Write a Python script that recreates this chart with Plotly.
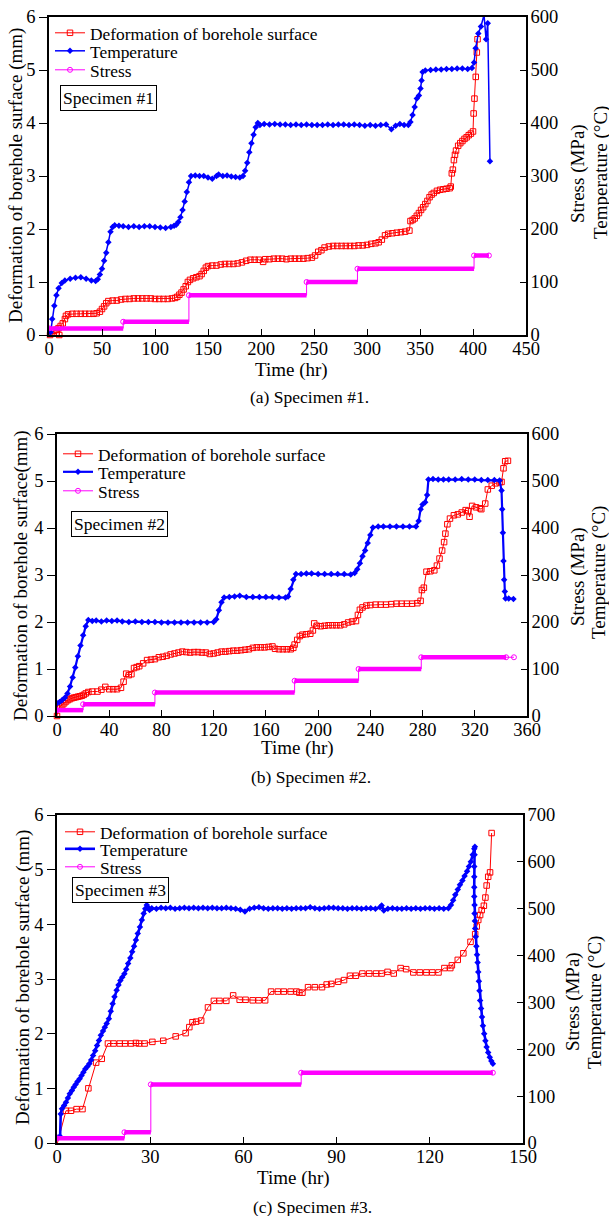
import plotly.graph_objects as go

W, H = 609, 1216
FONT = "Liberation Serif, Times New Roman, Times, serif"
RED, BLUE, MAG = "#ff0000", "#0000ff", "#ff00ff"

# ---------------- Panel (a) Specimen #1 ----------------
p1_deformation = [
    (1, 0.0), (3, 0.05), (5, 0.08), (7, 0.1), (9, 0.13), (9.7, 0.0), (11, 0.17), (13, 0.22), (15, 0.3),
    (16, 0.36), (18, 0.39), (22, 0.4), (26, 0.4), (30, 0.4), (34, 0.4), (38, 0.4), (42, 0.4), (45, 0.41),
    (48, 0.44), (50, 0.49), (52, 0.54), (54, 0.6), (56, 0.64), (60, 0.65), (64, 0.65), (68, 0.67),
    (72, 0.68), (76, 0.68), (80, 0.69), (84, 0.69), (88, 0.69), (92, 0.69), (96, 0.69), (100, 0.68),
    (104, 0.68), (108, 0.68), (112, 0.68), (116, 0.69), (119, 0.7), (121, 0.72), (123, 0.76), (125, 0.8),
    (127, 0.86), (129, 0.92), (131, 1.0), (133, 1.04), (136, 1.07), (139, 1.09), (142, 1.11), (144, 1.15),
    (146, 1.21), (148, 1.27), (150, 1.3), (154, 1.31), (158, 1.31), (162, 1.33), (166, 1.34), (170, 1.34),
    (174, 1.34), (178, 1.35), (182, 1.37), (186, 1.4), (190, 1.42), (194, 1.42), (198, 1.42), (202, 1.38),
    (204, 1.43), (208, 1.43), (212, 1.44), (216, 1.44), (220, 1.44), (224, 1.43), (228, 1.44), (232, 1.44),
    (236, 1.44), (240, 1.44), (244, 1.45), (248, 1.46), (251, 1.5), (254, 1.57), (257, 1.6), (260, 1.65),
    (264, 1.67), (268, 1.68), (272, 1.68), (276, 1.68), (280, 1.68), (284, 1.68), (288, 1.68), (292, 1.69),
    (296, 1.69), (300, 1.7), (304, 1.72), (308, 1.73), (311, 1.75), (314, 1.8), (317, 1.88), (320, 1.91),
    (324, 1.92), (328, 1.93), (332, 1.94), (336, 1.95), (340, 1.97), (341, 2.15), (343, 2.17), (345, 2.2),
    (347, 2.25), (349, 2.3), (351, 2.36), (353, 2.41), (355, 2.47), (357, 2.53), (359, 2.6), (361, 2.65),
    (363, 2.68), (366, 2.72), (369, 2.74), (372, 2.75), (375, 2.76), (378, 2.77), (379, 2.8), (380, 3.05),
    (381, 3.12), (382, 3.3), (383, 3.4), (384, 3.48), (386, 3.57), (388, 3.62), (390, 3.66), (392, 3.7),
    (394, 3.73), (396, 3.77), (398, 3.8), (400, 3.84), (400.6, 4.18), (401.4, 4.46), (402.6, 4.87),
    (403.6, 5.33), (404.3, 5.58),
]
p1_temperature = [
    (1.5, 5), (3, 30), (5, 55), (7, 75), (9, 88), (12, 98), (15, 103), (20, 106), (25, 108), (30, 109),
    (35, 106), (40, 103), (44, 102), (46, 105), (48, 114), (50, 125), (52, 140), (54, 155), (56, 175),
    (58, 195), (60, 204), (62, 207), (66, 206), (70, 205), (75, 204), (80, 205), (85, 204), (90, 205),
    (95, 205), (100, 204), (105, 203), (110, 202), (115, 204), (118, 206), (120, 208), (122, 213),
    (124, 222), (126, 236), (128, 252), (130, 270), (132, 288), (134, 300), (138, 301), (142, 300),
    (146, 300), (150, 297), (154, 295), (158, 300), (160, 303), (164, 300), (168, 301), (172, 299),
    (176, 298), (180, 297), (183, 300), (185, 310), (187, 325), (189, 345), (191, 362), (193, 378),
    (195, 392), (197, 400), (199, 396), (203, 398), (208, 397), (213, 398), (218, 397), (223, 397),
    (228, 396), (233, 397), (238, 396), (243, 397), (248, 396), (253, 396), (258, 396), (263, 397),
    (268, 396), (273, 397), (278, 397), (283, 396), (288, 397), (293, 396), (298, 395), (303, 396),
    (308, 395), (313, 396), (318, 397), (323, 388), (327, 395), (331, 398), (335, 396), (339, 396),
    (341, 402), (343, 415), (345, 430), (347, 446), (349, 452), (350.5, 465), (351.5, 480), (352.5, 496),
    (355, 499), (360, 500), (365, 501), (370, 501), (375, 502), (380, 502), (385, 503), (390, 503),
    (395, 502), (399, 504), (401, 514), (402.5, 541), (405, 569), (407.5, 582), (410.4, 604),
    (412.3, 558), (413.9, 588), (416, 328),
]
p1_stress_times = [0, 70, 132, 243, 291, 401, 415]
p1_stress_levels = [12.5, 25, 75, 100, 125, 150]

# ---------------- Panel (b) Specimen #2 ----------------
p2_deformation = [
    (0, 0.0), (1, 0.16), (2.5, 0.2), (4, 0.23), (5.5, 0.27), (7, 0.31), (8.5, 0.34), (10, 0.36),
    (11.5, 0.38), (13, 0.39), (14.5, 0.4), (16, 0.41), (17.5, 0.42), (19, 0.43), (20.5, 0.45), (22, 0.48),
    (24, 0.51), (27, 0.52), (31, 0.52), (34, 0.56), (37, 0.62), (40, 0.57), (43, 0.57), (46, 0.57),
    (49, 0.6), (51, 0.73), (53, 0.9), (55, 0.87), (57, 0.89), (59, 1.02), (61, 1.04), (63, 1.06),
    (66, 1.12), (69, 1.19), (72, 1.2), (75, 1.21), (78, 1.25), (81, 1.26), (84, 1.28), (87, 1.31),
    (90, 1.33), (93, 1.35), (96, 1.37), (99, 1.36), (102, 1.35), (105, 1.36), (108, 1.36), (111, 1.35),
    (114, 1.35), (117, 1.32), (120, 1.33), (123, 1.35), (126, 1.37), (129, 1.37), (132, 1.38),
    (135, 1.39), (138, 1.39), (141, 1.4), (144, 1.41), (147, 1.42), (150, 1.45), (153, 1.46),
    (156, 1.46), (159, 1.46), (162, 1.47), (165, 1.48), (167, 1.43), (170, 1.42), (173, 1.42),
    (176, 1.42), (179, 1.42), (181, 1.45), (182, 1.52), (184, 1.62), (186, 1.7), (188, 1.73),
    (191, 1.74), (194, 1.75), (196, 1.82), (197, 1.97), (199, 1.92), (202, 1.91), (205, 1.92),
    (208, 1.93), (211, 1.93), (214, 1.93), (217, 1.93), (220, 1.95), (223, 1.99), (226, 2.01),
    (229, 2.02), (230.5, 2.15), (232, 2.26), (234, 2.31), (237, 2.35), (240, 2.36), (244, 2.37),
    (248, 2.37), (252, 2.37), (256, 2.38), (260, 2.39), (264, 2.39), (268, 2.39), (272, 2.39),
    (276, 2.4), (278.5, 2.45), (279.5, 2.68), (281, 2.73), (283, 3.07), (286, 3.08), (289, 3.1),
    (291, 3.2), (293, 3.35), (295, 3.52), (296.5, 3.7), (297.5, 3.88), (299, 4.08), (301, 4.2),
    (304, 4.27), (307, 4.29), (310, 4.33), (313, 4.38), (315, 4.36), (316, 4.24), (318, 4.47),
    (321, 4.44), (324, 4.42), (325, 4.4), (328, 4.52), (330, 4.82), (333, 4.9), (336, 4.95),
    (339, 4.97), (340.5, 4.98), (342, 5.27), (343.3, 5.42), (345.4, 5.43),
]
p2_temperature = [
    (0, 27), (2, 30), (4, 34), (6, 39), (8, 48), (10, 63), (12, 82), (14, 103), (16, 127), (18, 150),
    (20, 172), (22, 191), (24, 204), (27, 202), (30, 203), (34, 201), (38, 203), (42, 202), (46, 203),
    (50, 201), (55, 200), (60, 201), (65, 200), (70, 200), (75, 200), (80, 199), (85, 199), (90, 199),
    (95, 199), (100, 199), (105, 199), (110, 199), (115, 199), (120, 200), (122, 206), (124, 225),
    (126, 242), (128, 252), (132, 253), (136, 254), (140, 256), (145, 253), (150, 253), (155, 253),
    (160, 253), (165, 253), (170, 252), (175, 252), (177, 254), (179, 270), (181, 290), (183, 302),
    (187, 302), (191, 303), (195, 303), (200, 302), (205, 302), (210, 302), (215, 302), (220, 302),
    (225, 301), (228, 304), (230, 312), (232, 325), (234, 340), (236, 352), (238, 368), (240, 385),
    (242, 401), (246, 403), (250, 403), (255, 403), (260, 403), (265, 403), (270, 403), (275, 403),
    (277, 415), (278.5, 440), (280, 450), (282, 455), (283.5, 470), (284.5, 503), (288, 504),
    (292, 503), (296, 503), (300, 503), (305, 503), (310, 504), (315, 503), (320, 503), (325, 502),
    (330, 502), (335, 502), (339, 501), (340.5, 480), (341, 440), (341.5, 390), (342, 330),
    (342.5, 290), (343, 265), (343.6, 250), (346, 250), (349.6, 249),
]
p2_stress_times = [0, 20, 75, 182, 231, 279, 344, 350]
p2_stress_levels = [12.5, 25, 50, 75, 100, 125, 125]

# ---------------- Panel (c) Specimen #3 ----------------
p3_deformation = [
    (0, -0.03), (2.9, 0.59), (4.5, 0.59), (6.3, 0.62), (8.2, 0.62), (10.1, 1.0), (12.6, 1.47),
    (14.4, 1.54), (16.4, 1.82), (18.2, 1.82), (20.2, 1.82), (21.9, 1.82), (23.8, 1.82), (25.4, 1.83),
    (26.4, 1.82), (28.2, 1.82), (30.7, 1.85), (34.2, 1.87), (38.2, 1.95), (41.4, 2.01), (42.6, 2.12),
    (43.6, 2.21), (44.8, 2.22), (46.4, 2.24), (48.6, 2.48), (50.5, 2.6), (52.3, 2.6), (54.5, 2.6),
    (56.7, 2.7), (58.8, 2.62), (60.7, 2.62), (63, 2.61), (64.9, 2.61), (67, 2.61), (68.9, 2.77),
    (71.1, 2.77), (73, 2.77), (75.2, 2.77), (77.1, 2.77), (78, 2.75), (79, 2.75), (80.8, 2.85), (83, 2.85),
    (85.3, 2.85), (86.8, 2.9), (88.3, 2.91), (90.5, 2.95), (92.4, 2.98), (94.3, 3.06), (96.2, 3.06),
    (98.3, 3.1), (100.5, 3.1), (102.7, 3.1), (104.5, 3.1), (106.4, 3.13), (108.4, 3.1),
    (110.6, 3.2), (112.4, 3.18), (114.7, 3.12), (116.8, 3.12), (118.9, 3.12), (120.8, 3.12),
    (122.8, 3.12), (124.7, 3.2), (126.6, 3.2), (127.1, 3.25), (129, 3.35), (130.8, 3.47),
    (133.1, 3.68), (134.6, 3.82), (135.1, 3.96), (135.6, 4.08), (136.2, 4.17), (136.7, 4.26),
    (137.4, 4.34), (137.9, 4.49), (138.3, 4.71), (138.8, 4.87), (139.4, 4.95), (139.9, 5.67),
]
p3_temperature = [
    (0, 12), (0.5, 12), (1.0, 14), (1.2, 62), (1.6, 73), (2.3, 80), (2.9, 87), (3.5, 96), (4.1, 105),
    (4.8, 112), (5.4, 119), (6.0, 125), (6.6, 131), (7.3, 137), (7.9, 144), (8.5, 151), (9.1, 158),
    (9.8, 163), (10.4, 169), (11.0, 177), (11.6, 187), (12.3, 197), (12.9, 208), (13.5, 219),
    (14.1, 230), (14.8, 239), (15.4, 247), (16.0, 255), (16.7, 265), (17.3, 281), (17.9, 297),
    (18.5, 312), (19.2, 326), (19.8, 337), (20.4, 347), (21.0, 354), (21.7, 361), (22.3, 371),
    (22.9, 383), (23.6, 395), (24.2, 408), (24.8, 420), (25.4, 433), (26.0, 447), (26.7, 461),
    (27.3, 476), (27.9, 490), (28.4, 500), (28.9, 508), (29.4, 502), (29.8, 497), (30.5, 501),
    (32, 500), (33.5, 502), (35, 501), (36.5, 502), (38, 500), (39.5, 501), (41, 502), (42.5, 501),
    (44, 502), (45.5, 501), (47, 502), (48.5, 501), (50, 502), (51.5, 501), (53, 501), (54.5, 502),
    (56, 501), (57.5, 500), (59, 498), (60.5, 494), (62, 500), (63.5, 502), (65, 503), (66.5, 501),
    (68, 500), (69.5, 501), (71, 501), (72.5, 500), (74, 501), (75.5, 500), (77, 501), (78.5, 501),
    (80, 501), (81.5, 503), (83, 501), (84.5, 500), (86, 501), (87.5, 502), (89, 502), (90.5, 501),
    (92, 501), (93.5, 500), (95, 501), (96.5, 501), (98, 500), (99.5, 501), (101, 501), (102.5, 500),
    (104, 503), (104.5, 507), (105.2, 496), (106.5, 500), (108, 501), (109.5, 500), (111, 500),
    (112.5, 501), (114, 500), (115.5, 501), (117, 500), (118.5, 501), (120, 501), (121.5, 500),
    (123, 501), (124.5, 500), (126, 501), (126.8, 508), (127.5, 518), (128.2, 530), (129, 541),
    (129.7, 551), (130.5, 560), (131.2, 570), (132, 580), (132.6, 590), (133.2, 600), (133.8, 615),
    (134.3, 628), (134.5, 632), (134.4, 615), (134.3, 590), (134.3, 568), (134.3, 546), (134.3, 526),
    (134.4, 508), (134.4, 490), (134.5, 474), (134.6, 458), (134.8, 440), (135.0, 420), (135.2, 402),
    (135.4, 385), (135.6, 365), (135.8, 345), (136.0, 325), (136.2, 304), (136.5, 287), (136.8, 269),
    (137.1, 250), (137.5, 233), (137.9, 218), (138.3, 205), (138.8, 193), (139.3, 183), (139.8, 175),
    (140.3, 169),
]
p3_stress_times = [0, 21.7, 30.2, 78.6, 140.3]
p3_stress_levels = [10, 23, 125, 150]

series_names = ["Deformation of borehole surface", "Temperature", "Stress"]
x_titles = ["Time (hr)", "Time (hr)", "Time (hr)"]
left_titles = ["Deformation of borehole surface (mm)", "Deformation of borehole surface(mm)",
               "Deformation of borehole surface (mm)"]
captions = ["(a) Specimen #1.", "(b) Specimen #2.", "(c) Specimen #3."]
labels = ["Specimen #1", "Specimen #2", "Specimen #3"]
x_max = [450, 360, 150]
x_dtick = [50, 40, 30]
right_max = [600, 600, 700]

# ---------------- layout geometry (pixels) ----------------
geo = [
    dict(l=49, r=526, t=17, b=335, temp_w=1.5, thick_n=6,
         xt=(291, 370), cap=(309, 397), lt=(16, 176), st=(578, 174), tt=(601, 173), box=(108, 98),
         leg_x=50, leg_rows=(33, 51, 70)),
    dict(l=57, r=527, t=434, b=716, temp_w=2.2, thick_n=6,
         xt=(297, 748), cap=(311, 777), lt=(21, 576), st=(578, 577), tt=(599, 573), box=(119, 524),
         leg_x=58, leg_rows=(454, 472, 491)),
    dict(l=57, r=523, t=815, b=1143, temp_w=2.6, thick_n=4,
         xt=(293, 1178), cap=(312, 1207), lt=(23, 978), st=(573, 1002), tt=(595, 1003), box=(120, 890),
         leg_x=60, leg_rows=(832, 849, 867)),
]

def fx(p):
    return p / W

def fy(p):
    return 1 - p / H

fig = go.Figure()
deformations = [p1_deformation, p2_deformation, p3_deformation]
temperatures = [p1_temperature, p2_temperature, p3_temperature]
stress_times = [p1_stress_times, p2_stress_times, p3_stress_times]
stress_levels = [p1_stress_levels, p2_stress_levels, p3_stress_levels]

annotations = []
layout_axes = {}

def legend_key(n):
    return "legend" if n == 1 else f"legend{n}"

for i in range(3):
    g = geo[i]
    xa = "x" if i == 0 else f"x{i+1}"
    yl = "y" if i == 0 else f"y{2*i+1}"
    yr = f"y{2*i+2}"
    legs = [legend_key(3 * i + j + 1) for j in range(3)]

    d = deformations[i]
    fig.add_trace(go.Scatter(
        x=[p[0] for p in d], y=[p[1] for p in d], xaxis=xa, yaxis=yl, legend=legs[0],
        name=series_names[0], mode="lines+markers",
        line=dict(color=RED, width=1), cliponaxis=False,
        marker=dict(symbol="square-open", size=5.5, color=RED, line=dict(width=1)),
    ))
    tp = temperatures[i]
    fig.add_trace(go.Scatter(
        x=[p[0] for p in tp], y=[p[1] for p in tp], xaxis=xa, yaxis=yr, legend=legs[1],
        name=series_names[1], mode="lines+markers",
        line=dict(color=BLUE, width=g["temp_w"]),
        marker=dict(symbol="diamond", size=5, color=BLUE),
    ))
    st_t, st_v = stress_times[i], stress_levels[i]
    fig.add_trace(go.Scatter(
        x=st_t, y=st_v + [st_v[-1]], xaxis=xa, yaxis=yr, legend=legs[2],
        name=series_names[2], mode="lines+markers", line=dict(color=MAG, width=1, shape="hv"),
        marker=dict(symbol="circle-open", size=5, color=MAG, line=dict(width=1)),
    ))
    bx, by = [], []
    for k in range(g["thick_n"]):
        bx += [st_t[k], st_t[k + 1], None]
        by += [st_v[k], st_v[k], None]
    fig.add_trace(go.Scatter(
        x=bx, y=by, xaxis=xa, yaxis=yr, mode="lines", showlegend=False, hoverinfo="skip",
        line=dict(color=MAG, width=4.5),
    ))

    xkey = "xaxis" if i == 0 else f"xaxis{i+1}"
    ylkey = "yaxis" if i == 0 else f"yaxis{2*i+1}"
    yrkey = f"yaxis{2*i+2}"
    tickfont = dict(family=FONT, size=18.5, color="black")
    layout_axes[xkey] = dict(
        domain=[fx(g["l"]), fx(g["r"])], anchor=yl, range=[0, x_max[i]], dtick=x_dtick[i],
        ticks="inside", ticklen=6, tickwidth=1, tickcolor="black", showline=True, linecolor="black",
        linewidth=1.5, mirror=True, showgrid=False, zeroline=False, tickfont=tickfont,
        ticklabelstandoff=-4, automargin=False,
    )
    layout_axes[ylkey] = dict(
        domain=[fy(g["b"]), fy(g["t"])], anchor=xa, range=[0, 6], dtick=1,
        ticks="outside", ticklen=8, tickwidth=1, tickcolor="black", showline=True, linecolor="black",
        linewidth=1.5, showgrid=False, zeroline=False, tickfont=tickfont, automargin=False,
    )
    layout_axes[yrkey] = dict(
        overlaying=yl, anchor=xa, side="right", range=[0, right_max[i]], dtick=100,
        ticks="inside", ticklen=6, tickwidth=1, tickcolor="black", showline=True, linecolor="black",
        linewidth=1.5, showgrid=False, zeroline=False, tickfont=tickfont, ticklabelstandoff=-1,
        automargin=False,
    )

    for j in range(3):
        layout_axes[legs[j]] = dict(
            x=fx(g["leg_x"]), y=fy(g["leg_rows"][j]), xanchor="left", yanchor="middle",
            bgcolor="rgba(0,0,0,0)", borderwidth=0,
            font=dict(family=FONT, size=17.4, color="black"), itemwidth=30, tracegroupgap=0,
        )

    tfont = dict(family=FONT, size=19, color="black")
    common = dict(xref="paper", yref="paper", showarrow=False, xanchor="center", yanchor="middle")
    annotations.append(dict(text=x_titles[i], x=fx(g["xt"][0]), y=fy(g["xt"][1]),
                            font=tfont, **common))
    annotations.append(dict(text=captions[i], x=fx(g["cap"][0]), y=fy(g["cap"][1]),
                            font=dict(family=FONT, size=17.5, color="black"), **common))
    annotations.append(dict(text=left_titles[i], x=fx(g["lt"][0]), y=fy(g["lt"][1]), textangle=-90,
                            font=tfont, **common))
    annotations.append(dict(text="Stress (MPa)", x=fx(g["st"][0]), y=fy(g["st"][1]), textangle=-90,
                            font=tfont, **common))
    annotations.append(dict(text="Temperature (°C)", x=fx(g["tt"][0]), y=fy(g["tt"][1]), textangle=-90,
                            font=tfont, **common))
    annotations.append(dict(text=labels[i], x=fx(g["box"][0]), y=fy(g["box"][1]),
                            bordercolor="black", borderwidth=1, borderpad=2, bgcolor="white",
                            font=dict(family=FONT, size=17.5, color="black"), **common))

fig.update_layout(
    template="none",
    width=W, height=H, margin=dict(l=0, r=0, t=0, b=0, autoexpand=False),
    paper_bgcolor="white", plot_bgcolor="white",
    font=dict(family=FONT, color="black"),
    annotations=annotations, **layout_axes,
)

fig.write_html("out.html", config={"displayModeBar": False},
               post_script="document.body.style.margin='0px';")
